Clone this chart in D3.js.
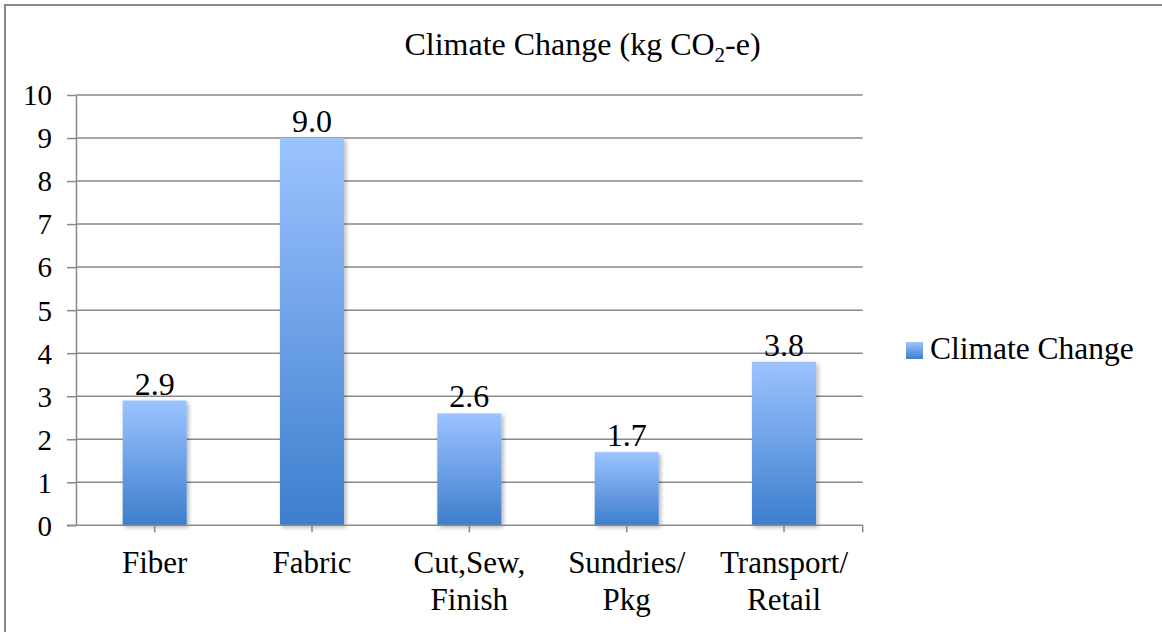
<html>
<head>
<script src="https://cdn.jsdelivr.net/npm/d3@7"></script>
<style>
  body { margin: 0; background: #fff; }
  text { font-family: "Liberation Serif", "Times New Roman", serif; fill: #000; }
  .grid line { stroke: #898989; stroke-width: 1.5; }
  .axis path, .axis line { stroke: #898989; stroke-width: 1.5; }
</style>
</head>
<body>
<script>
// ---------------------------------------------------------------
// data
// ---------------------------------------------------------------
var categories = ["Fiber", "Fabric", "Cut,Sew, Finish", "Sundries/ Pkg", "Transport/ Retail"];
var categoryLines = [["Fiber"], ["Fabric"], ["Cut,Sew,", "Finish"], ["Sundries/", "Pkg"], ["Transport/", "Retail"]];
var values = [2.9, 9.0, 2.6, 1.7, 3.8];
var yTicks = [0, 1, 2, 3, 4, 5, 6, 7, 8, 9, 10];
var seriesName = "Climate Change";

// ---------------------------------------------------------------
// layout
// ---------------------------------------------------------------
var W = 1162, H = 632;
var plot = { left: 76, right: 862.7, top: 95, bottom: 525.3 };

var svg = d3.select("body").append("svg")
  .attr("width", W).attr("height", H);

var defs = svg.append("defs");
var grad = defs.append("linearGradient").attr("id", "barGrad")
  .attr("x1", 0).attr("y1", 0).attr("x2", 0).attr("y2", 1);
grad.append("stop").attr("offset", "0%").attr("stop-color", "#9cc3ff");
grad.append("stop").attr("offset", "100%").attr("stop-color", "#3d7ecd");

var shadow = defs.append("filter").attr("id", "shadow")
  .attr("x", "-20%").attr("y", "-5%").attr("width", "140%").attr("height", "115%");
shadow.append("feDropShadow").attr("dx", 2).attr("dy", 2)
  .attr("stdDeviation", 2).attr("flood-color", "#000").attr("flood-opacity", 0.3);

// outer frame (only top/left edges inside the picture)
svg.append("rect").attr("x", 5).attr("y", 5).attr("width", 1300).attr("height", 800)
  .attr("fill", "none").attr("stroke", "#8a8a8a").attr("stroke-width", 2);

// title
var title = svg.append("text").attr("x", 582.5).attr("y", 55)
  .attr("text-anchor", "middle").style("font-size", "32px");
title.append("tspan").text("Climate Change (kg CO");
title.append("tspan").text("2").style("font-size", "21px").attr("dy", 7);
title.append("tspan").text("-e)").attr("dy", -7);

var x = d3.scaleBand()
  .domain(categories)
  .range([plot.left, plot.right])
  .paddingInner(0.593)
  .paddingOuter(0.2965);

var y = d3.scaleLinear()
  .domain([0, 10])
  .range([plot.bottom, plot.top]);

// gridlines
svg.append("g").attr("class", "grid")
  .selectAll("line").data(yTicks.filter(function(d){ return d > 0; }))
  .enter().append("line")
  .attr("x1", plot.left).attr("x2", plot.right)
  .attr("y1", function(d){ return y(d); }).attr("y2", function(d){ return y(d); });

// y axis
var yAxis = svg.append("g").attr("class", "axis")
  .attr("transform", "translate(" + plot.left + ",0)")
  .call(d3.axisLeft(y).tickValues(yTicks).tickSize(9).tickSizeOuter(0).tickPadding(15));
yAxis.selectAll("text").style("font-size", "29px").attr("dy", "0.34em");

// bars
svg.append("g").selectAll("rect").data(values)
  .enter().append("rect")
  .attr("x", function(d, i){ return x(categories[i]); })
  .attr("width", x.bandwidth())
  .attr("y", function(d){ return y(d); })
  .attr("height", function(d){ return y(0) - y(d); })
  .attr("fill", "url(#barGrad)")
  .attr("filter", "url(#shadow)");

// value labels
svg.append("g").selectAll("text").data(values)
  .enter().append("text")
  .attr("x", function(d, i){ return x(categories[i]) + x.bandwidth() / 2; })
  .attr("y", function(d){ return y(d) - 6; })
  .attr("text-anchor", "middle")
  .style("font-size", "32px")
  .text(function(d){ return d3.format(".1f")(d); });

// x axis
var xAxis = svg.append("g").attr("class", "axis")
  .attr("transform", "translate(0," + plot.bottom + ")");
xAxis.append("line").attr("x1", plot.left - 9).attr("x2", plot.right);
xAxis.selectAll(".tk").data(categories.concat(["end"]))
  .enter().append("line").attr("class", "tk")
  .attr("x1", function(d){ return d === "end" ? plot.right : x(d) + x.bandwidth() / 2; })
  .attr("x2", function(d){ return d === "end" ? plot.right : x(d) + x.bandwidth() / 2; })
  .attr("y1", 0).attr("y2", 7);

// category labels
var catText = svg.append("g").selectAll("text").data(categories)
  .enter().append("text")
  .attr("x", function(d){ return x(d) + x.bandwidth() / 2; })
  .attr("y", 573)
  .attr("text-anchor", "middle")
  .style("font-size", "31px");
catText.selectAll("tspan").data(function(d, i){ return categoryLines[i]; })
  .enter().append("tspan")
  .attr("x", function(){ return d3.select(this.parentNode).attr("x"); })
  .attr("dy", function(d, j){ return j === 0 ? 0 : 37; })
  .text(function(d){ return d; });

// legend
var legend = svg.append("g").attr("transform", "translate(906,342)");
legend.append("rect").attr("width", 17).attr("height", 17).attr("fill", "url(#barGrad)");
legend.append("text").attr("x", 24).attr("y", 17).style("font-size", "31.5px").text(seriesName);
</script>
</body>
</html>
